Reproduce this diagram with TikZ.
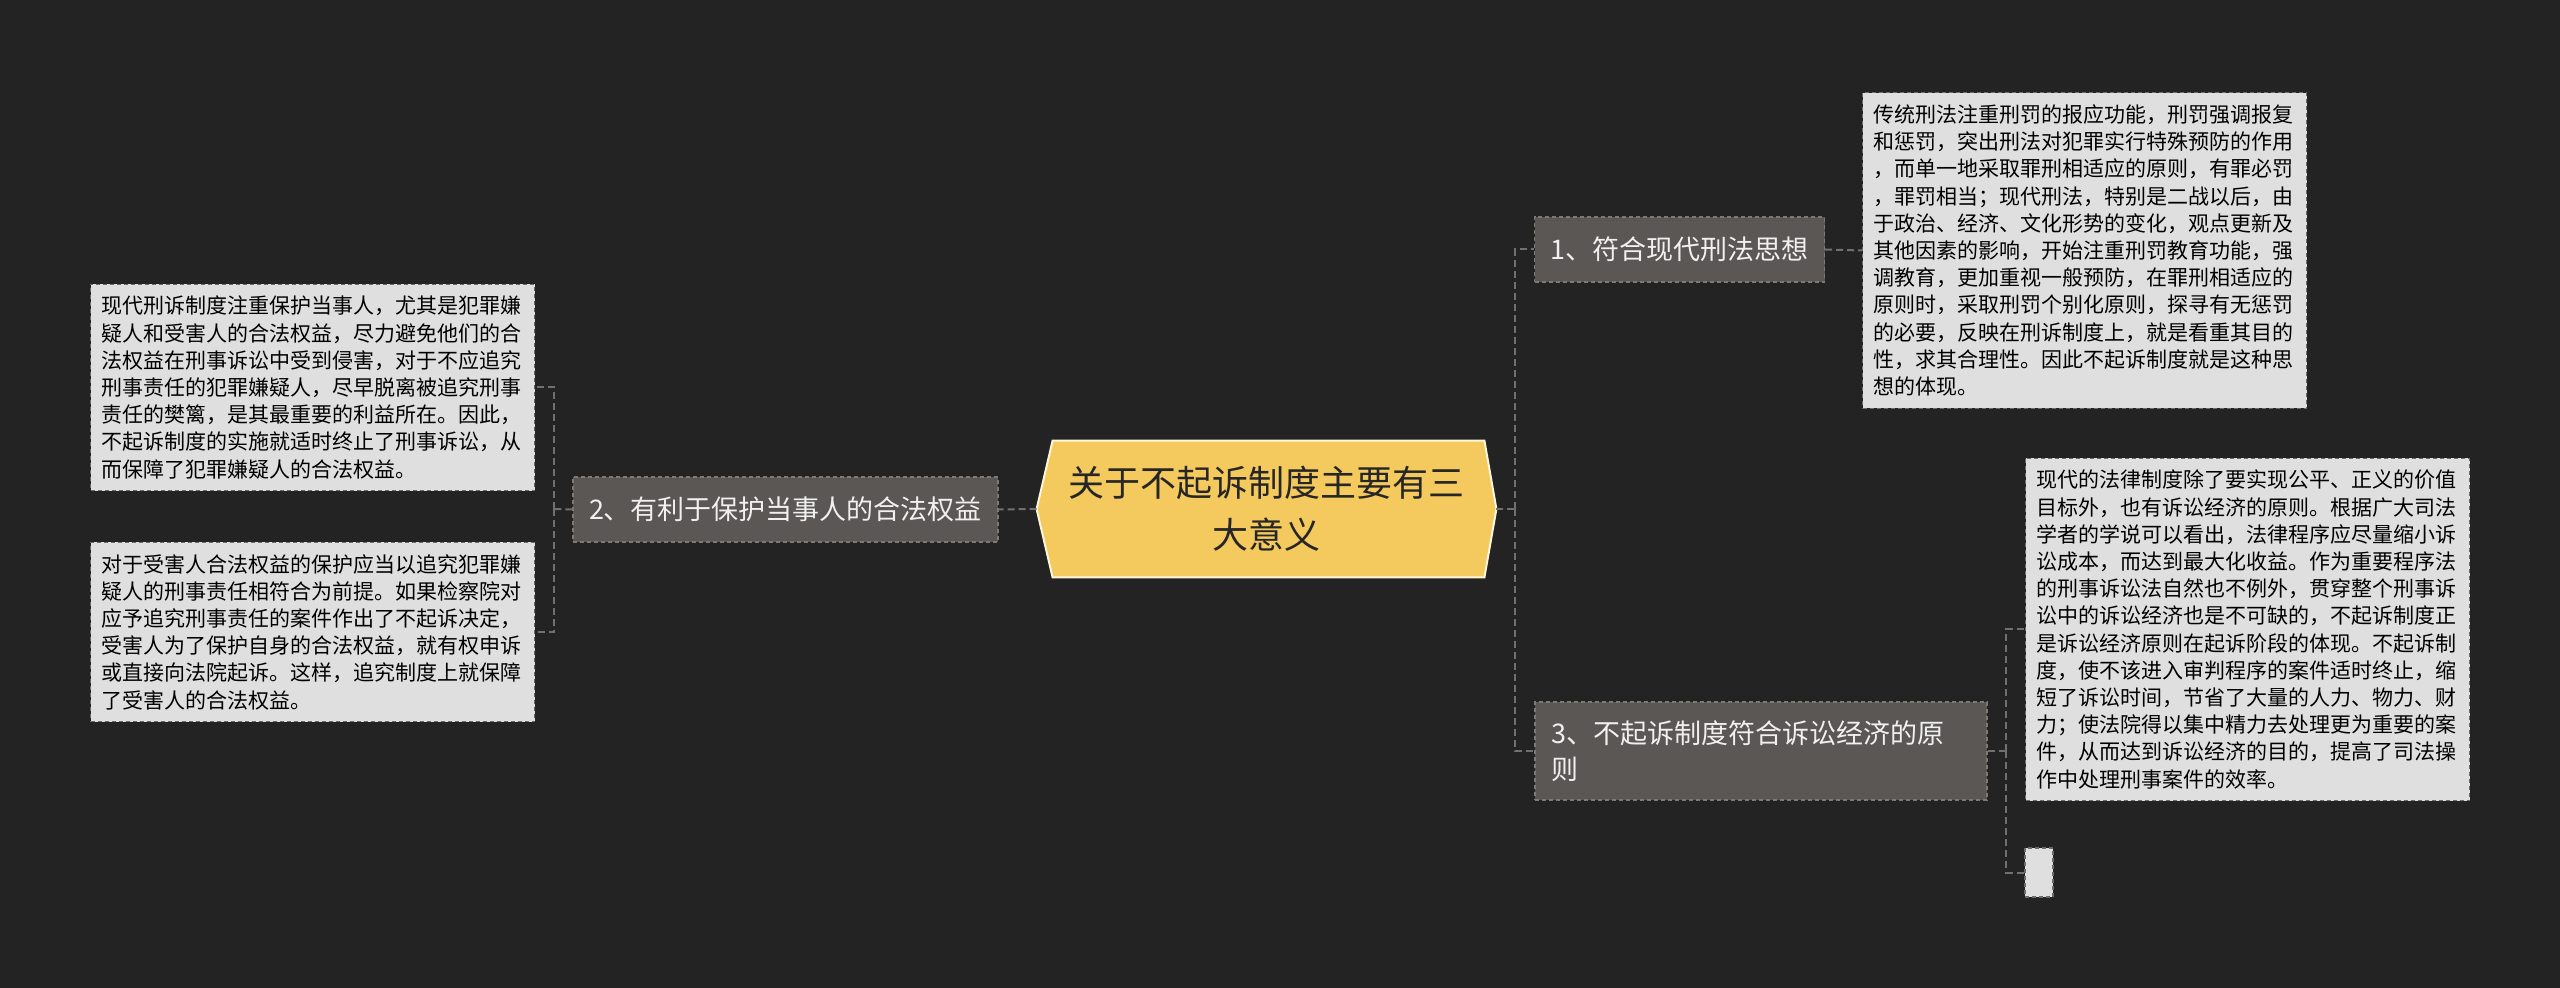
\documentclass[tikz,border=0pt]{standalone}
\usepackage{fontspec}
\setmainfont{Noto Sans CJK SC}
\usepackage{tikz}
\usetikzlibrary{calc,backgrounds}

\definecolor{bgdark}{HTML}{232323}
\definecolor{rootyellow}{HTML}{F4C95D}
\definecolor{rootedge}{HTML}{FFF6DC}
\definecolor{topicgray}{HTML}{5A5754}
\definecolor{topicedge}{HTML}{7D7975}
\definecolor{leafgray}{HTML}{DFDFDF}
\definecolor{leafedge}{HTML}{6B6B6B}
\definecolor{linkgray}{HTML}{707070}

\begin{document}
\begin{tikzpicture}[x=0.5pt, y=-0.5pt,
    link/.style={draw=linkgray, line width=1pt, dash pattern=on 3.5pt off 2pt},
    rootbox/.style={minimum width=229.5pt, minimum height=68pt, inner sep=0pt, align=center, text=black!85, font=\fontsize{18pt}{26pt}\selectfont},
    rootshape/.style={fill=rootyellow, draw=rootedge, line width=1pt},
    topic/.style={fill=topicgray, draw=topicedge, line width=0.6pt, dash pattern=on 2pt off 1.5pt, text=white!94!black, font=\fontsize{13.5pt}{18pt}\selectfont, inner xsep=8pt, inner ysep=0pt, minimum height=32.5pt, align=left},
    leaf/.style={fill=leafgray, draw=leafedge, line width=0.6pt, dash pattern=on 2pt off 1.5pt, text=black, font=\fontsize{10.5pt}{13.6pt}\selectfont, text width=211pt, inner xsep=5.5pt, inner ysep=6pt, align=left}]
    \useasboundingbox (0,0) rectangle (2560,988);
    \begin{scope}[on background layer]
        \fill[bgdark] (0,0) rectangle (2560,988);
    \end{scope}

    \coordinate (ltrunk) at (554,509);
    \coordinate (rtrunk) at (1515,509);
    \coordinate (r3trunk) at (2006,751);

    % centre
    \node[rootbox] (root) at (1266.5,509) {关于不起诉制度主要有三\\大意义};
    \begin{scope}[on background layer]
        \draw[rootshape] (root.west) -- ($(root.north west)+(16,0)$) -- ($(root.north east)+(-12,0)$) -- (root.east) -- ($(root.south east)+(-12,0)$) -- ($(root.south west)+(16,0)$) -- cycle;
    \end{scope}

    % topics
    \node[topic] (n1) at (1679.5,249.5) {1、符合现代刑法思想};
    \node[topic] (n2) at (785.5,509.5) {2、有利于保护当事人的合法权益};
    \node[topic, text width=210pt, minimum height=49pt] (n3) at (1761,751) {3、不起诉制度符合诉讼经济的原\\则};

    % leaves
    \node[leaf] (l1) at (312.5,387.5) {现代刑诉制度注重保护当事人，尤其是犯罪嫌\\疑人和受害人的合法权益，尽力避免他们的合\\法权益在刑事诉讼中受到侵害，对于不应追究\\刑事责任的犯罪嫌疑人，尽早脱离被追究刑事\\责任的樊篱，是其最重要的利益所在。因此，\\不起诉制度的实施就适时终止了刑事诉讼，从\\而保障了犯罪嫌疑人的合法权益。};
    \node[leaf] (l2) at (312.5,632) {对于受害人合法权益的保护应当以追究犯罪嫌\\疑人的刑事责任相符合为前提。如果检察院对\\应予追究刑事责任的案件作出了不起诉决定，\\受害人为了保护自身的合法权益，就有权申诉\\或直接向法院起诉。这样，追究制度上就保障\\了受害人的合法权益。};
    \node[leaf] (r1) at (2084.5,250.5) {传统刑法注重刑罚的报应功能，刑罚强调报复\\和惩罚，突出刑法对犯罪实行特殊预防的作用\\，而单一地采取罪刑相适应的原则，有罪必罚\\，罪罚相当；现代刑法，特别是二战以后，由\\于政治、经济、文化形势的变化，观点更新及\\其他因素的影响，开始注重刑罚教育功能，强\\调教育，更加重视一般预防，在罪刑相适应的\\原则时，采取刑罚个别化原则，探寻有无惩罚\\的必要，反映在刑诉制度上，就是看重其目的\\性，求其合理性。因此不起诉制度就是这种思\\想的体现。};
    \node[leaf] (r2) at (2247.5,629.5) {现代的法律制度除了要实现公平、正义的价值\\目标外，也有诉讼经济的原则。根据广大司法\\学者的学说可以看出，法律程序应尽量缩小诉\\讼成本，而达到最大化收益。作为重要程序法\\的刑事诉讼法自然也不例外，贯穿整个刑事诉\\讼中的诉讼经济也是不可缺的，不起诉制度正\\是诉讼经济原则在起诉阶段的体现。不起诉制\\度，使不该进入审判程序的案件适时终止，缩\\短了诉讼时间，节省了大量的人力、物力、财\\力；使法院得以集中精力去处理更为重要的案\\件，从而达到诉讼经济的目的，提高了司法操\\作中处理刑事案件的效率。};
    \node[leaf, text width=0pt, inner xsep=7pt, minimum height=24.5pt] (r3) at (2039,872.5) {};

    % connectors
    \draw[link] (root.west) -- (n2.east);
    \draw[link] (n2.west) -- (ltrunk);
    \foreach \p in {l1,l2} {\draw[link] (ltrunk) |- (\p.east);}
    \draw[link] (root.east) -- (rtrunk);
    \foreach \p in {n1,n3} {\draw[link] (rtrunk) |- (\p.west);}
    \draw[link] (n1.east) -- (r1.west);
    \draw[link] (n3.east) -- (r3trunk);
    \foreach \p in {r2,r3} {\draw[link] (r3trunk) |- (\p.west);}
\end{tikzpicture}
\end{document}
